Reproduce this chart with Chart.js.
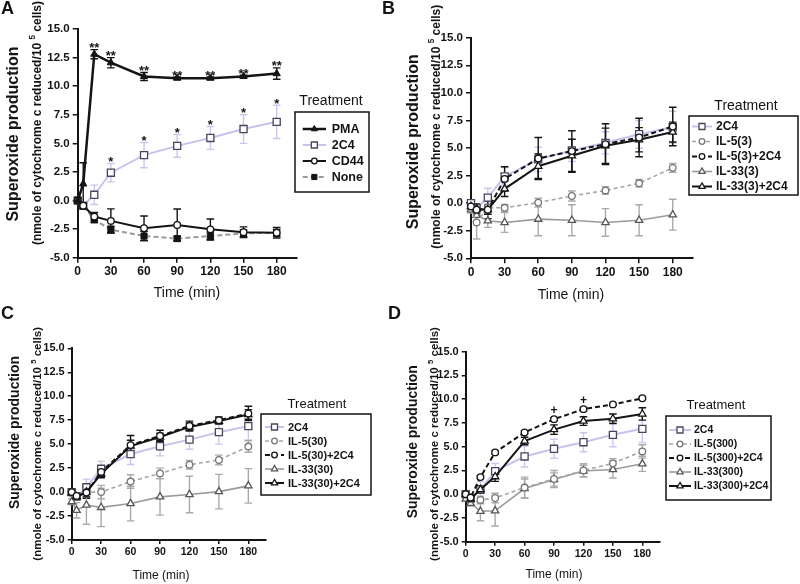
<!DOCTYPE html>
<html>
<head>
<meta charset="utf-8">
<script src="https://cdn.jsdelivr.net/npm/chart.js@4.4.1/dist/chart.umd.min.js"></script>
<style>
html, body { margin: 0; padding: 0; background: #fff; }
#wrap { position: relative; width: 800px; height: 584px; }
#wrap canvas { position: absolute; left: 0; top: 0; }
</style>
</head>
<body>
<div id="wrap">
  <canvas id="chartA" width="800" height="584"></canvas>
  <canvas id="chartB" width="800" height="584"></canvas>
  <canvas id="chartC" width="800" height="584"></canvas>
  <canvas id="chartD" width="800" height="584"></canvas>
</div>
<script>
const FONT = "'Liberation Sans', Arial, Helvetica, sans-serif";
const BLACK = '#141414';

// time points (min)
const times = [0, 5, 15, 30, 60, 90, 120, 150, 180];
const xTicks = [0, 30, 60, 90, 120, 150, 180];
const yTicks = [-5, -2.5, 0, 2.5, 5, 7.5, 10, 12.5, 15];

// 2C4 control, same in every panel
const c2c4 = [0, -0.45, 0.5, 2.43, 3.97, 4.78, 5.47, 6.25, 6.88];
const c2c4Err = [0, 0.15, 0.85, 0.8, 1.1, 1.0, 1.0, 1.25, 1.45];

// panel A
const pmaA = [0, 1.45, 12.8, 12.05, 10.85, 10.7, 10.7, 10.85, 11.1];
const pmaAErr = [0.1, 1.85, 0.4, 0.45, 0.35, 0.1, 0.1, 0.1, 0.5];
const cd44A = [0, -0.45, -1.4, -1.78, -2.42, -2.14, -2.52, -2.77, -2.82];
const cd44AErr = [0, 0.15, 0.35, 1.05, 1.07, 1.4, 0.9, 0.47, 0.46];
const noneA = [0, -0.5, -1.68, -2.55, -3.1, -3.33, -3.1, -2.87, -2.82];
const noneAErr = [0, 0.15, 0.25, 0.3, 0.4, 0.2, 0.35, 0.3, 0.3];

// panel B (3 ng/ml)
const il5B = [-0.5, -1.75, -0.4, -0.42, 0.05, 0.65, 1.15, 1.8, 3.2];
const il5BErr = [0.2, 1.5, 0.3, 0.3, 0.4, 0.45, 0.35, 0.35, 0.4];
const il5cB = [-0.3, -0.6, -0.6, 2.2, 4.05, 4.72, 5.35, 5.95, 6.95];
const il5cBErr = [0.3, 0.5, 0.8, 1.1, 1.9, 1.85, 1.85, 1.75, 1.75];
const il33B = [-0.6, -1.1, -1.6, -1.75, -1.45, -1.55, -1.75, -1.55, -1.05];
const il33BErr = [0.3, 0.6, 0.6, 0.9, 1.5, 1.4, 1.25, 1.4, 1.4];
const il33cB = [-0.3, -0.5, -0.6, 1.3, 3.35, 4.3, 5.2, 5.75, 6.45];
const il33cBErr = [0.3, 0.4, 0.4, 0.7, 1.1, 1.5, 1.6, 1.1, 0.9];

// panel C (30 ng/ml)
const il5C = [-0.1, -0.4, 0.0, 0.0, 1.1, 1.95, 2.85, 3.35, 4.75];
const il5CErr = [0.2, 0.3, 0.4, 0.7, 0.7, 0.55, 0.45, 0.5, 0.6];
const il5cC = [0, -0.4, -0.05, 2.1, 4.9, 5.85, 6.9, 7.5, 8.2];
const il5cCErr = [0.2, 0.3, 0.6, 0.5, 1.0, 0.6, 0.5, 0.35, 0.75];
const il33C = [-1.0, -1.9, -1.35, -1.6, -1.2, -0.5, -0.25, 0.05, 0.65];
const il33CErr = [0.3, 0.8, 2.0, 2.0, 1.8, 1.9, 1.9, 1.8, 1.8];
const il33cC = [-0.1, -0.5, 0.0, 1.9, 4.8, 5.75, 6.8, 7.4, 8.1];
const il33cCErr = [0.2, 0.3, 0.5, 0.4, 0.6, 0.4, 0.4, 0.3, 0.5];

// panel D (300 ng/ml)
const il5D = [0, -0.5, -0.6, -0.4, 0.7, 1.6, 2.5, 3.25, 4.5];
const il5DErr = [0.2, 0.3, 0.4, 0.5, 1.1, 0.9, 0.7, 0.5, 0.7];
const il5cD = [0, -0.35, 1.8, 4.4, 6.5, 7.9, 8.95, 9.45, 10.1];
const il5cDErr = [0.1, 0.1, 0.15, 0.15, 0.15, 0.15, 0.15, 0.1, 0.1];
const il33D = [-0.5, -0.95, -1.8, -1.75, 0.6, 1.55, 2.45, 2.6, 3.2];
const il33DErr = [0.2, 0.3, 1.0, 1.6, 1.0, 0.7, 0.6, 0.9, 0.8];
const il33cD = [0, -0.5, 0.5, 1.85, 5.6, 6.8, 7.7, 7.95, 8.45];
const il33cDErr = [0.1, 0.2, 0.4, 0.5, 0.4, 0.5, 0.45, 0.5, 0.65];

const styles = {
  pma:  { borderColor: BLACK, borderWidth: 2.5, pointStyle: 'triangle', pointRadius: 4.2, pointBackgroundColor: BLACK, pointBorderColor: BLACK, pointBorderWidth: 1, errorColor: BLACK, order: 0 },
  c2c4: { borderColor: '#c4c4ec', borderWidth: 2, pointStyle: 'rect', pointRadius: 5, pointBackgroundColor: '#fff', pointBorderColor: '#45455c', pointBorderWidth: 1.3, errorColor: '#c8c8ef', order: 3 },
  cd44: { borderColor: BLACK, borderWidth: 2, pointStyle: 'circle', pointRadius: 3.3, pointBackgroundColor: '#fff', pointBorderColor: BLACK, pointBorderWidth: 1.3, errorColor: BLACK, order: 1 },
  none: { borderColor: '#9a9a9a', borderWidth: 2, borderDash: [5, 3], pointStyle: 'rect', pointRadius: 4.3, pointBackgroundColor: BLACK, pointBorderColor: BLACK, pointBorderWidth: 1, errorColor: BLACK, order: 2 },
  il5:  { borderColor: '#a6a6a6', borderWidth: 1.6, borderDash: [4, 3], pointStyle: 'circle', pointRadius: 3.3, pointBackgroundColor: '#fff', pointBorderColor: '#777', pointBorderWidth: 1.3, errorColor: '#aaa', order: 2 },
  il5c: { borderColor: BLACK, borderWidth: 2, borderDash: [5, 3], pointStyle: 'circle', pointRadius: 3.3, pointBackgroundColor: '#fff', pointBorderColor: BLACK, pointBorderWidth: 1.3, errorColor: BLACK, order: 0 },
  il33: { borderColor: '#9a9a9a', borderWidth: 1.6, pointStyle: 'triangle', pointRadius: 4.2, pointBackgroundColor: '#fff', pointBorderColor: '#555', pointBorderWidth: 1.3, errorColor: '#aaa', order: 2 },
  il33c:{ borderColor: BLACK, borderWidth: 2, pointStyle: 'triangle', pointRadius: 4.2, pointBackgroundColor: '#fff', pointBorderColor: BLACK, pointBorderWidth: 1.3, errorColor: BLACK, order: 0 }
};

function series(label, vals, errs, style) {
  return Object.assign({
    label: label,
    data: times.map((t, i) => ({ x: t, y: vals[i] })),
    errors: errs,
    clip: false,
    fill: false,
    tension: 0
  }, style);
}

// error bars, asterisks, titles and the boxed legend
const decoPlugin = {
  id: 'deco',
  beforeDatasetsDraw(chart) {
    const ctx = chart.ctx, xs = chart.scales.x, ys = chart.scales.y;
    chart.data.datasets.forEach(ds => {
      ctx.save();
      ctx.strokeStyle = ds.errorColor;
      ctx.lineWidth = 1.4;
      ds.data.forEach((p, j) => {
        const e = ds.errors[j];
        if (!e) return;
        const px = xs.getPixelForValue(p.x);
        const hi = ys.getPixelForValue(p.y + e), lo = ys.getPixelForValue(p.y - e);
        ctx.beginPath();
        ctx.moveTo(px, hi); ctx.lineTo(px, lo);
        ctx.moveTo(px - 3.8, hi); ctx.lineTo(px + 3.8, hi);
        ctx.moveTo(px - 3.8, lo); ctx.lineTo(px + 3.8, lo);
        ctx.stroke();
      });
      ctx.restore();
    });
  },
  afterDraw(chart, args, o) {
    const ctx = chart.ctx, xs = chart.scales.x, ys = chart.scales.y;
    ctx.save();
    ctx.fillStyle = BLACK;

    // panel letter
    ctx.font = 'bold 18px ' + FONT;
    ctx.textAlign = 'left'; ctx.textBaseline = 'alphabetic';
    ctx.fillText(o.letter.text, o.letter.x, o.letter.y);

    // y title, two lines, second one with superscript 5
    const t = o.yTitle;
    ctx.textBaseline = 'middle';
    ctx.save();
    ctx.translate(t.x1, t.y1); ctx.rotate(-Math.PI / 2);
    ctx.font = 'bold ' + t.s1 + 'px ' + FONT;
    ctx.textAlign = 'center';
    ctx.fillText('Superoxide production', 0, 0);
    ctx.restore();

    ctx.save();
    ctx.translate(t.x2, t.y2); ctx.rotate(-Math.PI / 2);
    const big = 'bold ' + t.s2 + 'px ' + FONT, small = 'bold ' + (t.s2 * 0.68) + 'px ' + FONT;
    const a = '(nmole of cytochrome c reduced/10 ', b = '5', c = ' cells)';
    ctx.font = big; const wa = ctx.measureText(a).width, wc = ctx.measureText(c).width;
    ctx.font = small; const wb = ctx.measureText(b).width;
    let x0 = -(wa + wb + wc) / 2;
    ctx.textAlign = 'left';
    ctx.font = big; ctx.fillText(a, x0, 0);
    ctx.font = small; ctx.fillText(b, x0 + wa, -t.s2 * 0.38);
    ctx.font = big; ctx.fillText(c, x0 + wa + wb, 0);
    ctx.restore();

    // x title
    ctx.font = o.xTitle.s + 'px ' + FONT;
    ctx.textAlign = 'center';
    ctx.fillText('Time (min)', o.xTitle.x, o.xTitle.y);

    // significance marks
    ctx.textBaseline = 'alphabetic';
    (o.marks || []).forEach(m => {
      const ds = chart.data.datasets[m.ds];
      ctx.font = 'bold ' + m.size + 'px ' + FONT;
      m.idx.forEach(j => {
        const p = ds.data[j];
        const top = ys.getPixelForValue(p.y + (m.useErr ? ds.errors[j] : 0));
        ctx.fillText(m.text, xs.getPixelForValue(p.x), top + m.dy);
      });
    });

    // legend
    const L = o.legend;
    ctx.strokeStyle = BLACK; ctx.lineWidth = 1.5;
    ctx.strokeRect(L.x, L.y, L.w, L.h);
    ctx.font = L.titleSize + 'px ' + FONT;
    ctx.textAlign = 'center'; ctx.textBaseline = 'middle';
    ctx.fillText('Treatment', L.titleX, L.titleY);
    ctx.font = 'bold ' + L.size + 'px ' + FONT;
    ctx.textAlign = 'left';
    chart.data.datasets.forEach((ds, k) => {
      const y = L.row0 + k * L.gap;
      ctx.save();
      ctx.strokeStyle = ds.borderColor; ctx.lineWidth = ds.borderWidth;
      ctx.setLineDash(ds.borderDash || []);
      ctx.beginPath(); ctx.moveTo(L.lineX0, y); ctx.lineTo(L.lineX1, y); ctx.stroke();
      ctx.setLineDash([]);
      ctx.fillStyle = ds.pointBackgroundColor; ctx.strokeStyle = ds.pointBorderColor;
      ctx.lineWidth = ds.pointBorderWidth;
      Chart.helpers.drawPoint(ctx, { pointStyle: ds.pointStyle, radius: ds.pointRadius * 0.85, borderWidth: ds.pointBorderWidth, rotation: 0 }, (L.lineX0 + L.lineX1) / 2, y);
      ctx.restore();
      ctx.fillText(ds.label, L.textX, y + 0.5);
    });
    ctx.restore();
  }
};

function makeChart(id, datasets, p) {
  return new Chart(document.getElementById(id), {
    type: 'line',
    data: { datasets: datasets },
    options: {
      responsive: false,
      animation: false,
      events: [],
      layout: { padding: p.pad },
      plugins: { legend: { display: false }, tooltip: { enabled: false }, deco: p.deco },
      scales: {
        x: {
          type: 'linear', min: 0, max: 198,
          afterFit(s) { s.height = 30; },
          afterBuildTicks(s) { s.ticks = xTicks.map(v => ({ value: v })); },
          border: { color: BLACK, width: 2 },
          grid: { drawOnChartArea: false, drawTicks: true, tickLength: p.tickLen, color: BLACK, lineWidth: 1.5 },
          ticks: { color: BLACK, font: { family: FONT, size: p.xFont, weight: 'bold' }, padding: 2, maxRotation: 0, autoSkip: false }
        },
        y: {
          min: -5, max: 15,
          afterFit(s) { s.width = 40; },
          afterBuildTicks(s) { s.ticks = yTicks.map(v => ({ value: v })); },
          border: { color: BLACK, width: 2 },
          grid: { drawOnChartArea: false, drawTicks: true, tickLength: p.tickLen, color: BLACK, lineWidth: 1.5 },
          ticks: { color: BLACK, font: { family: FONT, size: p.yFont, weight: 'bold' }, padding: 3, callback: v => v.toFixed(1) }
        }
      }
    },
    plugins: [decoPlugin]
  });
}

makeChart('chartA', [
  series('PMA', pmaA, pmaAErr, styles.pma),
  series('2C4', c2c4, c2c4Err, styles.c2c4),
  series('CD44', cd44A, cd44AErr, styles.cd44),
  series('None', noneA, noneAErr, styles.none)
], {
  pad: { left: 37.7, top: 29, right: 503.4, bottom: 296.3 },
  xFont: 12, yFont: 11.5, tickLen: 5,
  deco: {
    letter: { text: 'A', x: 1, y: 14 },
    yTitle: { x1: 14, y1: 134, s1: 16, x2: 37.3, y2: 123, s2: 12 },
    xTitle: { x: 187, y: 293, s: 14 },
    legend: { x: 295, y: 112, w: 74, h: 80, titleX: 331, titleY: 101, titleSize: 14, row0: 129, gap: 16, lineX0: 302.7, lineX1: 326, textX: 331.7, size: 12.5 },
    marks: [
      { ds: 0, idx: [2, 3, 4, 5, 6, 7, 8], text: '**', size: 13, dy: 2.5, useErr: true },
      { ds: 1, idx: [3, 4, 5, 6, 7, 8], text: '*', size: 13, dy: 2.5, useErr: true }
    ]
  }
});

makeChart('chartB', [
  series('2C4', c2c4, c2c4Err, styles.c2c4),
  series('IL-5(3)', il5B, il5BErr, styles.il5),
  series('IL-5(3)+2C4', il5cB, il5cBErr, styles.il5c),
  series('IL-33(3)', il33B, il33BErr, styles.il33),
  series('IL-33(3)+2C4', il33cB, il33cBErr, styles.il33c)
], {
  pad: { left: 431, top: 37.7, right: 107.1, bottom: 295.7 },
  xFont: 12, yFont: 11.5, tickLen: 5,
  deco: {
    letter: { text: 'B', x: 382, y: 14 },
    yTitle: { x1: 414, y1: 141.7, s1: 16, x2: 436.7, y2: 126.7, s2: 12 },
    xTitle: { x: 571, y: 295, s: 14 },
    legend: { x: 689, y: 116, w: 109, h: 79, titleX: 746, titleY: 106, titleSize: 14, row0: 126.5, gap: 15, lineX0: 692, lineX1: 712, textX: 716, size: 12 }
  }
});

makeChart('chartC', [
  series('2C4', c2c4, c2c4Err, styles.c2c4),
  series('IL-5(30)', il5C, il5CErr, styles.il5),
  series('IL-5(30)+2C4', il5cC, il5cCErr, styles.il5c),
  series('IL-33(30)', il33C, il33CErr, styles.il33),
  series('IL-33(30)+2C4', il33cC, il33cCErr, styles.il33c)
], {
  pad: { left: 31.7, top: 348.3, right: 534, bottom: 14 },
  xFont: 10.5, yFont: 11, tickLen: 4,
  deco: {
    letter: { text: 'C', x: 1, y: 319 },
    yTitle: { x1: 15, y1: 432.5, s1: 14, x2: 38.3, y2: 443.8, s2: 11.5 },
    xTitle: { x: 161, y: 576, s: 12 },
    legend: { x: 261, y: 414, w: 110, h: 81, titleX: 317, titleY: 404, titleSize: 13, row0: 427, gap: 14, lineX0: 265, lineX1: 284, textX: 288, size: 11 }
  }
});

makeChart('chartD', [
  series('2C4', c2c4, c2c4Err, styles.c2c4),
  series('IL-5(300)', il5D, il5DErr, styles.il5),
  series('IL-5(300)+2C4', il5cD, il5cDErr, styles.il5c),
  series('IL-33(300)', il33D, il33DErr, styles.il33),
  series('IL-33(300)+2C4', il33cD, il33cDErr, styles.il33c)
], {
  pad: { left: 425.7, top: 351.7, right: 140, bottom: 12.3 },
  xFont: 10.5, yFont: 11, tickLen: 4,
  deco: {
    letter: { text: 'D', x: 388, y: 319 },
    yTitle: { x1: 413.3, y1: 441.7, s1: 14, x2: 435, y2: 444, s2: 11.5 },
    xTitle: { x: 554, y: 575, s: 12 },
    legend: { x: 666, y: 416, w: 105, h: 84, titleX: 716, titleY: 405, titleSize: 13, row0: 430, gap: 14, lineX0: 669, lineX1: 691, textX: 694, size: 10.5 },
    marks: [
      { ds: 2, idx: [5, 6], text: '+', size: 12, dy: -5, useErr: false }
    ]
  }
});
</script>
</body>
</html>
